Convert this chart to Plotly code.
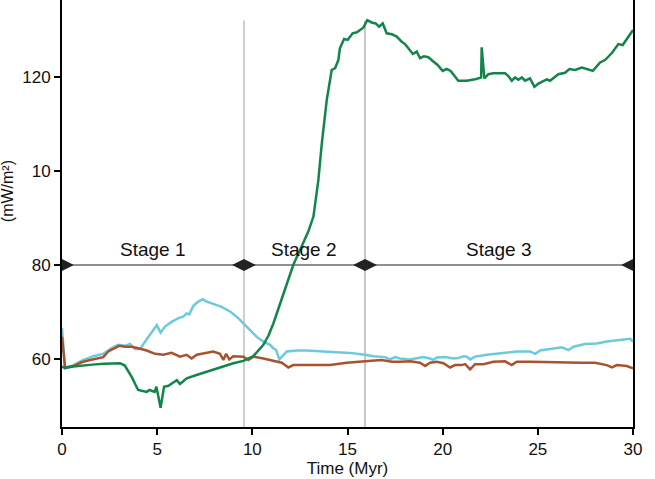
import plotly.graph_objects as go

# Time (Myr) and heat-flow values (mW/m^2)
green_t = [0, 0.16, 0.6, 1.0, 1.6, 2.2, 2.6, 3.05, 3.3, 3.66, 4.0, 4.45, 4.6, 4.87, 4.96, 5.18, 5.36, 5.59,
           5.85, 6.03, 6.2, 6.55, 7.07, 7.6, 8.3, 9.0, 9.53, 10.05, 10.58, 10.85, 11.1, 11.89, 12.15, 12.94, 13.21,
           13.47, 13.65, 13.91, 14.17, 14.35, 14.52, 14.6, 14.82, 15.01, 15.27, 15.49, 15.66, 15.83, 16.04, 16.27, 16.48,
           16.66, 16.85, 17.06, 17.33, 17.59, 17.85, 18.02, 18.2, 18.43, 18.64, 18.81, 19.02, 19.25, 19.51,
           19.72, 20.0, 20.21, 20.42, 20.65, 20.82, 21.27, 21.7, 22.02, 22.05, 22.19, 22.4, 22.66, 23.28,
           23.45, 23.63, 23.8, 23.98, 24.16, 24.33, 24.59, 24.82, 25.03, 25.47, 25.64, 25.82, 26.08, 26.43,
           26.66, 26.96, 27.31, 27.57, 27.89, 28.27, 28.53, 28.89, 29.23, 29.46, 30.0]
green_v = [58.4, 58.1, 58.4, 58.6, 58.8, 59.0, 59.0, 59.1, 58.6, 56.2, 53.4, 53.0, 53.4, 53.0, 54.1, 49.6, 54.1, 54.3,
           55.0, 55.5, 54.7, 55.9, 56.6, 57.3, 58.2, 59.1, 59.6, 60.6, 63.0, 65.0, 67.5, 77.0, 80.0, 87.1, 90.3,
           98.1, 105.9, 115.1, 121.5, 121.9, 123.6, 126.1, 128.1, 127.9, 129.3, 129.5, 130.1, 130.5, 132.1, 131.6, 131.4,
           130.7, 131.4, 129.3, 129.1, 128.6, 127.5, 127.0, 126.1, 124.9, 125.4, 124.0, 124.4, 124.2, 123.3,
           122.6, 121.3, 121.7, 121.3, 120.1, 119.2, 119.2, 119.5, 119.9, 126.3, 119.7, 120.6, 120.8, 120.8,
           120.2, 119.2, 119.9, 119.4, 119.9, 119.2, 119.7, 117.9, 118.6, 119.5, 119.2, 119.7, 120.6, 120.9,
           121.7, 121.5, 122.0, 121.7, 121.3, 123.1, 123.6, 125.1, 127.0, 126.8, 130.0]

cyan_t = [0, 0.16, 0.6, 1.12, 1.65, 2.17, 2.61, 2.96, 3.31, 3.57, 3.84, 4.1, 4.45, 4.71, 4.98, 5.18, 5.41, 5.76,
          6.11, 6.37, 6.55, 6.69, 6.9, 7.16, 7.39, 7.6, 7.95, 8.39, 8.83, 9.26, 9.7, 10.23, 10.58, 10.93, 11.1,
          11.25, 11.42, 11.81, 12.33, 12.86, 13.73, 14.3, 15.13, 15.92, 16.36, 16.97, 17.24, 17.5, 17.76,
          18.29, 18.64, 18.99, 19.34, 19.51, 19.69, 20.13, 20.56, 20.83, 21.09, 21.27, 21.44, 21.7, 22.32,
          22.84, 23.19, 23.89, 24.59, 24.86, 25.12, 25.64, 26.26, 26.61, 26.87, 27.48, 28.1, 28.62, 29.15,
          29.85, 30.0]
cyan_v = [66.6, 58.0, 58.7, 59.8, 60.6, 61.1, 62.3, 63.0, 62.8, 63.2, 62.1, 62.1, 64.2, 65.8, 67.2, 65.6, 66.9, 67.9,
          68.7, 69.0, 69.7, 69.5, 71.3, 72.2, 72.7, 72.2, 71.7, 71.1, 70.1, 68.7, 66.9, 64.7, 63.7, 63.0, 62.3,
          61.9, 59.9, 61.6, 61.8, 61.8, 61.6, 61.5, 61.3, 60.9, 60.6, 60.4, 59.9, 60.4, 60.1,
          59.9, 60.1, 60.4, 60.1, 59.8, 60.3, 60.4, 60.1, 60.2, 60.6, 60.5, 59.9, 60.5, 60.9,
          61.1, 61.3, 61.6, 61.6, 61.1, 61.8, 62.1, 62.5, 61.9, 62.6, 63.2, 63.3, 63.7, 64.0,
          64.3, 63.7]

brown_t = [0, 0.16, 0.6, 1.03, 1.47, 1.91, 2.17, 2.43, 2.7, 3.0, 3.31, 3.66, 4.01, 4.45, 4.89, 5.32, 5.76, 6.2,
           6.55, 6.81, 7.08, 7.51, 7.95, 8.3, 8.48, 8.62, 8.79, 9.0, 9.53, 9.79, 10.05, 10.58, 10.93, 11.19,
           11.55, 11.89, 12.15, 12.68, 13.38, 14.08, 14.96, 15.92, 16.27, 16.8, 17.33, 17.76, 18.29, 18.81,
           19.08, 19.34, 19.69, 20.04, 20.39, 20.65, 21.0, 21.18, 21.44, 21.7, 22.14, 22.66, 23.28, 23.63,
           23.89, 24.59, 25.64, 26.26, 27.31, 28.0, 28.62, 28.89, 29.15, 29.67, 30.0]
brown_v = [64.7, 58.2, 58.5, 59.3, 59.8, 60.2, 60.4, 61.6, 62.1, 62.8, 62.6, 62.6, 62.3, 61.8, 61.1, 60.9, 61.3, 60.5,
           60.9, 60.1, 60.9, 61.3, 61.6, 61.1, 59.8, 61.1, 59.9, 60.6, 60.5, 59.8, 60.5, 60.1, 59.8, 59.6,
           59.2, 58.2, 58.7, 58.7, 58.7, 58.7, 59.2, 59.4, 59.6, 59.8, 59.4, 59.4, 59.5, 59.2,
           58.5, 59.2, 59.4, 59.1, 58.2, 58.7, 58.7, 58.9, 57.8, 58.9, 58.9, 59.4, 59.5, 58.7,
           59.4, 59.4, 59.3, 59.2, 59.2, 59.2, 58.7, 58.2, 58.7, 58.5, 58.0]

stage_bounds = [0, 9.56, 15.92, 30]
stage_labels = ["Stage 1", "Stage 2", "Stage 3"]
stage_level = 80
ytick_vals = [60, 80, 100, 120]
ytick_text = ["60", "80", "10", "120"]
xtick_vals = [0, 5, 10, 15, 20, 25, 30]

FONT = "Liberation Sans, Arial, Helvetica, sans-serif"

fig = go.Figure()

# vertical stage boundaries
fig.add_shape(type="line", x0=stage_bounds[1], x1=stage_bounds[1], y0=45.5, y1=132,
              xref="x", yref="y", line=dict(color="#c4c4c4", width=1.6), layer="below")
fig.add_shape(type="line", x0=stage_bounds[2], x1=stage_bounds[2], y0=45.5, y1=132,
              xref="x", yref="y", line=dict(color="#aaaaaa", width=1.3), layer="below")
# stage arrow line
fig.add_shape(type="line", x0=stage_bounds[0], x1=stage_bounds[-1], y0=stage_level, y1=stage_level,
              xref="x", yref="y", line=dict(color="#222222", width=1.2), layer="below")

fig.add_trace(go.Scatter(x=cyan_t, y=cyan_v, mode="lines",
                         line=dict(color="#6ccadc", width=2.5), showlegend=False))
fig.add_trace(go.Scatter(x=brown_t, y=brown_v, mode="lines",
                         line=dict(color="#a8532e", width=2.5), showlegend=False))
fig.add_trace(go.Scatter(x=green_t, y=green_v, mode="lines",
                         line=dict(color="#14854a", width=2.5), showlegend=False))

fig.add_trace(go.Scatter(x=stage_bounds, y=[stage_level] * len(stage_bounds), mode="markers",
                         marker=dict(symbol="diamond-wide", size=17, color="#222222",
                                     line=dict(width=0)),
                         cliponaxis=True, showlegend=False))

for i, lab in enumerate(stage_labels):
    xc = (stage_bounds[i] + stage_bounds[i + 1]) / 2
    fig.add_annotation(x=xc, y=83.4, xref="x", yref="y", text=lab, showarrow=False,
                       font=dict(family=FONT, size=19, color="#111111"),
                       xanchor="center", yanchor="middle")

fig.add_annotation(x=-0.094, y=0.553, xref="paper", yref="paper", text="(mW/m²)",
                   textangle=-90, showarrow=False, xanchor="center", yanchor="middle",
                   font=dict(family=FONT, size=16, color="#111111"))

fig.update_layout(
    width=655, height=479,
    margin=dict(l=62, r=22, t=0, b=52),
    paper_bgcolor="white", plot_bgcolor="white",
    font=dict(family=FONT, size=17, color="#111111"),
    xaxis=dict(range=[0, 30], tickvals=xtick_vals, ticks="outside", ticklen=6, tickwidth=1.5,
               tickcolor="black", showline=True, linecolor="black", linewidth=2, mirror=False,
               showgrid=False, zeroline=False,
               title=dict(text="Time (Myr)", font=dict(size=17), standoff=2),
               tickfont=dict(size=17)),
    yaxis=dict(range=[45.53, 136.38], tickvals=ytick_vals, ticktext=ytick_text, ticks="outside",
               ticklen=6, tickwidth=1.5, tickcolor="black", showline=True, linecolor="black",
               linewidth=2, mirror=True, showgrid=False, zeroline=False, tickfont=dict(size=17)),
)

fig.write_html("out.html", config={"displayModeBar": False},
               post_script="document.body.style.margin='0';document.body.style.padding='0';")
